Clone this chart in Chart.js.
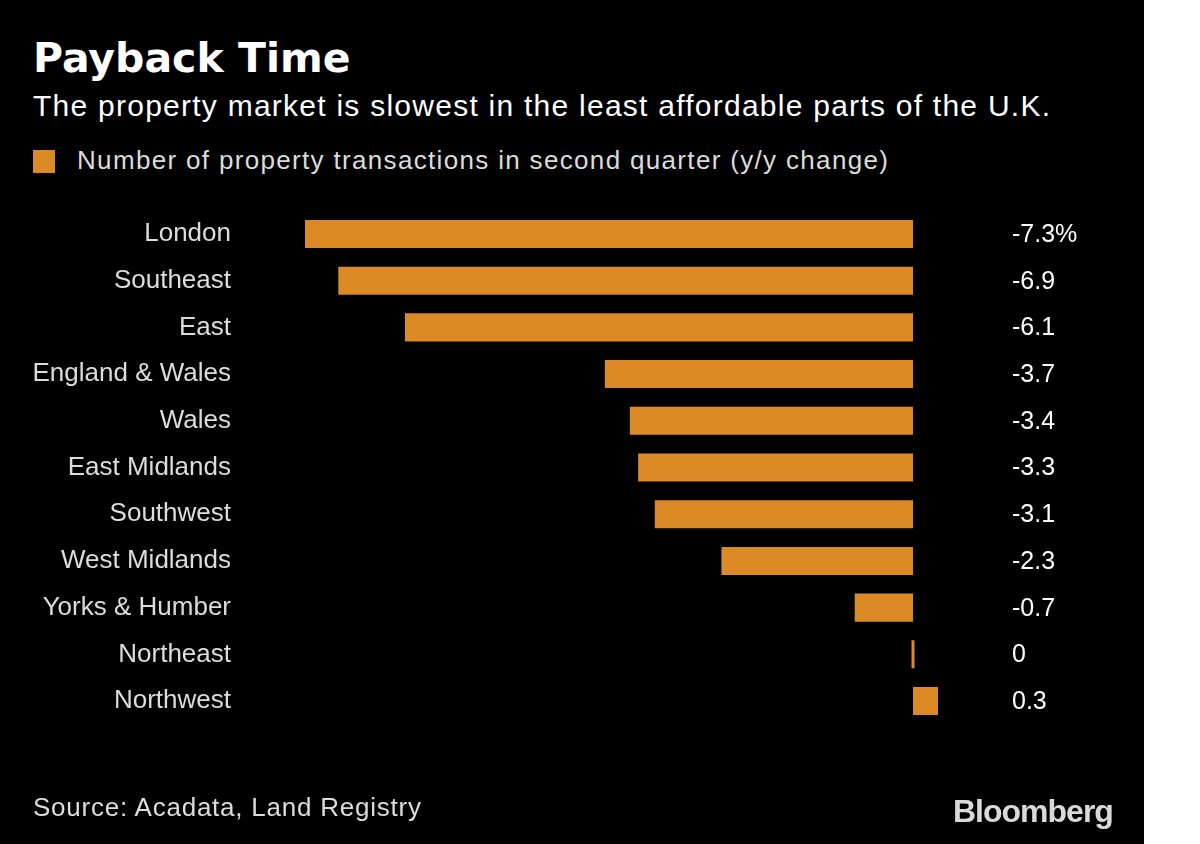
<!DOCTYPE html>
<html>
<head>
<meta charset="utf-8">
<script src="https://cdn.jsdelivr.net/npm/chart.js@4"></script>
<style>
  html, body { margin: 0; padding: 0; background: #fff; }
  #frame { position: absolute; left: 0; top: 0; width: 1144px; height: 844px; background: #000; overflow: hidden; }
  #frame div { position: absolute; white-space: nowrap; line-height: 1; }
  #title { left: 33px; top: 38px; font: bold 41px "DejaVu Sans", sans-serif; color: #fff; }
  #subtitle { left: 33px; top: 91px; font: 30px "Liberation Sans", sans-serif; color: #fff; letter-spacing: 1.25px; }
  #legend { left: 33px; top: 147px; font: 26px "Liberation Sans", sans-serif; color: #dcdcdc; letter-spacing: 1.33px; }
  #legend span { display: inline-block; width: 22px; height: 23px; background: #dc8a26; vertical-align: top; margin: 3px 22px 0 0; }
  #source { left: 33px; top: 794px; font: 26px "Liberation Sans", sans-serif; color: #dcdcdc; letter-spacing: 0.77px; }
  #brand { left: 953px; top: 795px; font: bold 32px "Liberation Sans", sans-serif; color: #d9d9d9; letter-spacing: -1px; }
  canvas { position: absolute; left: 0; top: 0; }
</style>
</head>
<body>
<div id="frame">
  <div id="title">Payback Time</div>
  <div id="subtitle">The property market is slowest in the least affordable parts of the U.K.</div>
  <div id="legend"><span></span>Number of property transactions in second quarter (y/y change)</div>
  <canvas id="chart" width="1144" height="844"></canvas>
  <div id="source">Source: Acadata, Land Registry</div>
  <div id="brand">Bloomberg</div>
</div>
<script>
const regions = ['London', 'Southeast', 'East', 'England & Wales', 'Wales', 'East Midlands',
  'Southwest', 'West Midlands', 'Yorks & Humber', 'Northeast', 'Northwest'];
const changes = [-7.3, -6.9, -6.1, -3.7, -3.4, -3.3, -3.1, -2.3, -0.7, 0, 0.3];
const xMin = -7.3;
const xMax = 0.3;

const barColor = '#dc8a26';

// value column on the right of the bars
const valueLabels = {
  id: 'valueLabels',
  afterDatasetsDraw(chart) {
    const ctx = chart.ctx;
    const meta = chart.getDatasetMeta(0);
    ctx.save();
    ctx.font = '25px "Liberation Sans", sans-serif';
    ctx.fillStyle = '#ffffff';
    ctx.textAlign = 'left';
    ctx.textBaseline = 'middle';
    meta.data.forEach((bar, i) => {
      const v = changes[i];
      let txt = v === 0 ? '0' : v.toFixed(1);
      if (i === 0) txt += '%';
      ctx.fillText(txt, 1012, bar.y + 1);
    });
    ctx.restore();
  }
};

new Chart(document.getElementById('chart').getContext('2d'), {
  type: 'bar',
  data: {
    labels: regions,
    datasets: [{
      label: 'Number of property transactions in second quarter (y/y change)',
      data: changes,
      backgroundColor: barColor,
      borderWidth: 0,
      minBarLength: 3,
      categoryPercentage: 1,
      barPercentage: 0.6,
    }],
  },
  options: {
    indexAxis: 'y',
    responsive: false,
    animation: false,
    layout: {
      padding: { top: 210.6, bottom: 119.6, left: 0, right: 206 },
    },
    plugins: {
      legend: { display: false },
      tooltip: { enabled: false },
    },
    scales: {
      x: {
        display: false,
        min: xMin,
        max: xMax,
      },
      y: {
        afterFit(scale) { scale.width = 305; },
        grid: { display: false, drawTicks: false },
        border: { display: false },
        ticks: {
          color: '#dcdcdc',
          padding: 74,
          font: { family: '"Liberation Sans", sans-serif', size: 26 },
        },
      },
    },
  },
  plugins: [valueLabels],
});
</script>
</body>
</html>
